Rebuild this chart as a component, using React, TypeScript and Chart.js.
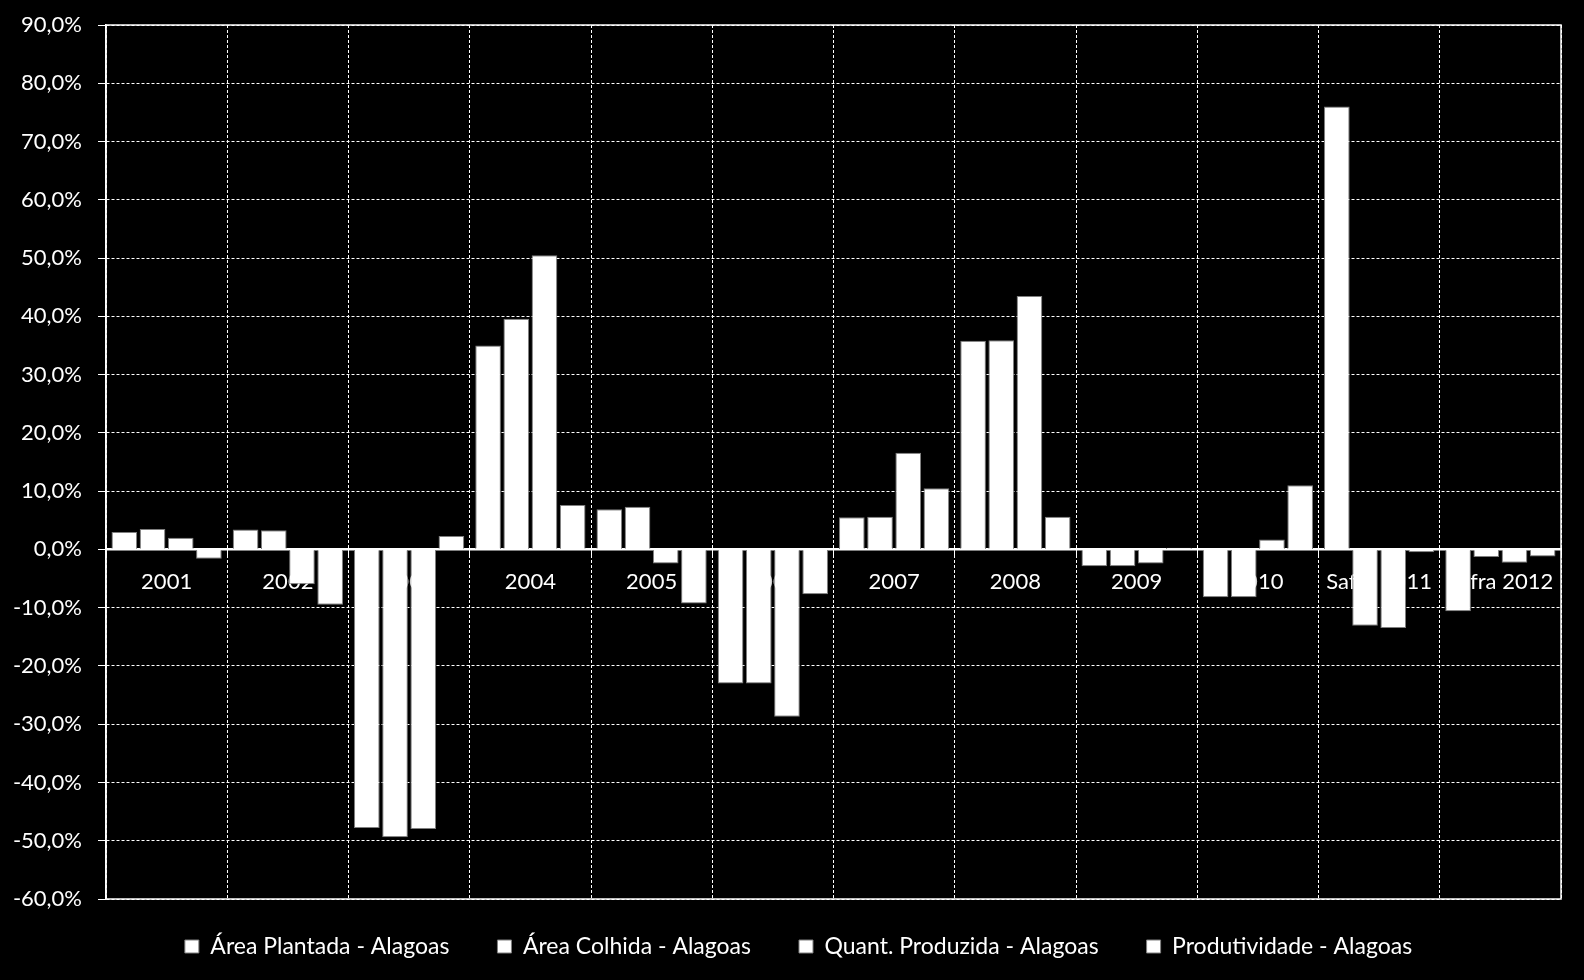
import React, { useEffect, useRef } from "react";
import { Chart, registerables } from "chart.js";

Chart.register(...registerables);

const categories = ["2001", "2002", "2003", "2004", "2005", "2006", "2007", "2008", "2009", "2010", "Safra 2011", "Safra 2012"];
const areaPlantada = [3.0, 3.4, -47.8, 35.0, 6.9, -23.0, 5.5, 35.8, -2.9, -8.2, 76.0, -10.6];
const areaColhida = [3.5, 3.3, -49.4, 39.6, 7.3, -23.0, 5.6, 35.9, -2.9, -8.2, -13.1, -1.3];
const quantProduzida = [2.0, -6.0, -48.0, 50.5, -2.4, -28.7, 16.6, 43.5, -2.4, 1.7, -13.5, -2.3];
const produtividade = [-1.6, -9.5, 2.3, 7.6, -9.3, -7.7, 10.5, 5.6, 0.3, 11.0, -0.5, -1.2];
const seriesNames = ["Área Plantada - Alagoas", "Área Colhida - Alagoas", "Quant. Produzida - Alagoas", "Produtividade - Alagoas"];
const yMin = -60;
const yMax = 90;
const yStep = 10;

const FONT = "Lato";

const borderPlugin = {
  id: "plotBorder",
  afterLayout(chart: any) {
    const lg = chart.legend;
    if (lg) {
      lg.top -= 12;
      lg.bottom -= 12;
      lg.left += 18;
      lg.right += 18;
    }
  },
  beforeDatasetsDraw(chart: any) {
    const { ctx, chartArea } = chart;
    ctx.save();
    ctx.strokeStyle = "#ffffff";
    ctx.lineWidth = 1.5;
    ctx.setLineDash([]);
    ctx.strokeRect(chartArea.left, chartArea.top, chartArea.right - chartArea.left, chartArea.bottom - chartArea.top);
    ctx.restore();
  },
};

export default function App() {
  const ref = useRef<HTMLCanvasElement | null>(null);

  useEffect(() => {
    document.body.style.margin = "0";
    document.body.style.background = "#000";
    const canvas = ref.current;
    if (!canvas) return;
    const bar = (label: string, data: number[]) => ({
      label,
      data,
      backgroundColor: "#ffffff",
      borderColor: "#7f7f7f",
      borderWidth: 1,
      categoryPercentage: 0.93,
      barPercentage: 0.91,
    });
    const chart = new Chart(canvas, {
      type: "bar",
      data: {
        labels: categories,
        datasets: [
          bar(seriesNames[0], areaPlantada),
          bar(seriesNames[1], areaColhida),
          bar(seriesNames[2], quantProduzida),
          bar(seriesNames[3], produtividade),
        ],
      },
      plugins: [borderPlugin],
      options: {
        animation: false,
        responsive: false,
        maintainAspectRatio: false,
        layout: { padding: { left: 0, right: 23, top: 25, bottom: 0 } },
        plugins: {
          tooltip: { enabled: false },
          legend: {
            position: "bottom",
            labels: {
              color: "#ffffff",
              font: { family: FONT, size: 23 },
              boxWidth: 14,
              boxHeight: 13,
              padding: 48,
            },
          },
        },
        scales: {
          x: {
            position: { y: 0 } as any,
            offset: true,
            afterFit: (scale: any) => {
              scale.paddingTop = 0;
              scale.paddingBottom = 0;
            },
            grid: {
              offset: true,
              color: "#ffffff",
              lineWidth: 1,
              tickLength: 5,
              tickBorderDash: [],
              tickColor: "#ffffff",
            } as any,
            border: { display: true, color: "#ffffff", width: 2.5, dash: [3, 2] },
            ticks: {
              color: "#ffffff",
              font: { family: FONT, size: 22 },
              padding: 14,
              maxRotation: 0,
              autoSkip: false,
            },
          },
          y: {
            min: yMin,
            max: yMax,
            afterFit: (scale: any) => {
              scale.width = 106;
              scale.paddingTop = 0;
              scale.paddingBottom = 0;
            },
            grid: {
              color: "#ffffff",
              lineWidth: 1,
              tickLength: 8,
              tickBorderDash: [],
              tickColor: "#ffffff",
            } as any,
            border: { display: true, color: "#ffffff", width: 1.5, dash: [3, 2] },
            ticks: {
              stepSize: yStep,
              color: "#ffffff",
              padding: 16,
              font: { family: FONT, size: 22 },
              callback: (v: any) => Number(v).toFixed(1).replace(".", ",") + "%",
            },
          },
        },
      },
    } as any);
    return () => chart.destroy();
  }, []);

  return (
    <div style={{ width: 1584, height: 980, background: "#000" }}>
      <canvas ref={ref} width={1584} height={980} style={{ display: "block" }} />
    </div>
  );
}
